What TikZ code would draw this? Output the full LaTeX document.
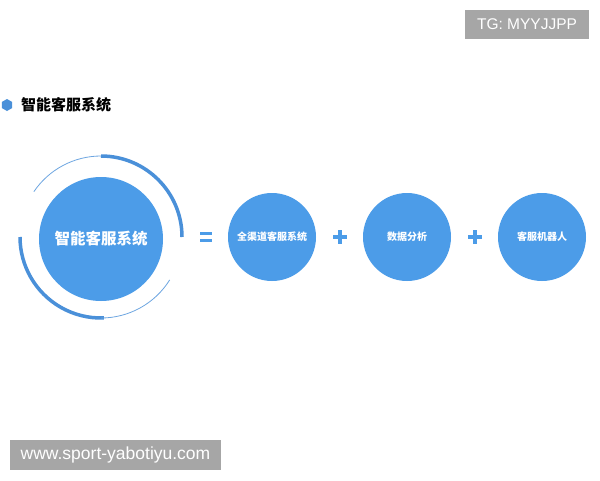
\documentclass[tikz,border=0pt]{standalone}
\usepackage{fontspec}
\setmainfont{Liberation Sans}
\newfontfamily\cjk{Noto Sans CJK SC}
\usetikzlibrary{shapes.geometric}
\definecolor{cblue}{RGB}{76,156,232}
\definecolor{rblue}{RGB}{74,144,217}
\definecolor{wgray}{RGB}{166,166,166}
\tikzset{
  x=1pt, y=-1pt,
  bigc/.style={circle, fill=cblue, minimum size=124pt, inner sep=0pt, text=white, font=\cjk\bfseries\fontsize{15.5}{18}\selectfont},
  smallc/.style={circle, fill=cblue, minimum size=88pt, inner sep=0pt, text=white, font=\cjk\bfseries\fontsize{10}{12}\selectfont},
  plussign/.style={minimum size=14pt, inner sep=0pt, path picture={
      \draw[cblue, line width=4pt] (path picture bounding box.north) -- (path picture bounding box.south);
      \draw[cblue, line width=4pt] (path picture bounding box.west) -- (path picture bounding box.east);}},
  eqsign/.style={minimum width=12pt, minimum height=10pt, inner sep=0pt, path picture={
      \fill[cblue] ([yshift=-3.2pt]path picture bounding box.north west) rectangle (path picture bounding box.north east);
      \fill[cblue] (path picture bounding box.south west) rectangle ([yshift=3.2pt]path picture bounding box.south east);}},
  wm/.style={fill=wgray, text=white, inner sep=0pt},
  thickarc/.style={draw=rblue, line width=3.5pt},
  thinarc/.style={draw=rblue!80, line width=0.8pt}
}
\begin{document}
\begin{tikzpicture}
\useasboundingbox[fill=white] (0,0) rectangle (600,480);
% watermark boxes
\node[wm, minimum width=124pt, minimum height=29pt, font=\fontsize{15.5}{18}\selectfont] (tg) at (527,24.5) {TG: MYYJJPP};
\node[wm, minimum width=211pt, minimum height=30pt, font=\fontsize{17.5}{20}\selectfont] (www) at (115.5,455) {www.sport-yabotiyu.com};
% title
\node[regular polygon, regular polygon sides=6, shape border rotate=30, fill=rblue, minimum size=12pt, inner sep=0pt] (hex) at (7,105) {};
\node[anchor=west, inner sep=0pt, font=\cjk\bfseries\fontsize{15}{18}\selectfont] (title) at (21,105) {智能客服系统};
% main circle and ring
\coordinate (ctr) at (101,237);
\node[bigc] (main) at (101,239) {智能客服系统};
\draw[thickarc] (ctr) ++(-90:81) arc[start angle=-90, end angle=0, radius=81];
\draw[thinarc] (ctr) ++(-90:81) arc[start angle=-90, end angle=-146, radius=81];
\draw[thickarc] (ctr) ++(180:81) arc[start angle=180, end angle=88, radius=81];
\draw[thinarc] (ctr) ++(90:81) arc[start angle=90, end angle=32, radius=81];
% operators
\node[eqsign] (eq) at (206,237) {};
\node[smallc] (c1) at (272,237) {全渠道客服系统};
\node[plussign] (p1) at (340,237) {};
\node[smallc] (c2) at (407,237) {数据分析};
\node[plussign] (p2) at (475,237) {};
\node[smallc] (c3) at (542,237) {客服机器人};
\end{tikzpicture}
\end{document}
